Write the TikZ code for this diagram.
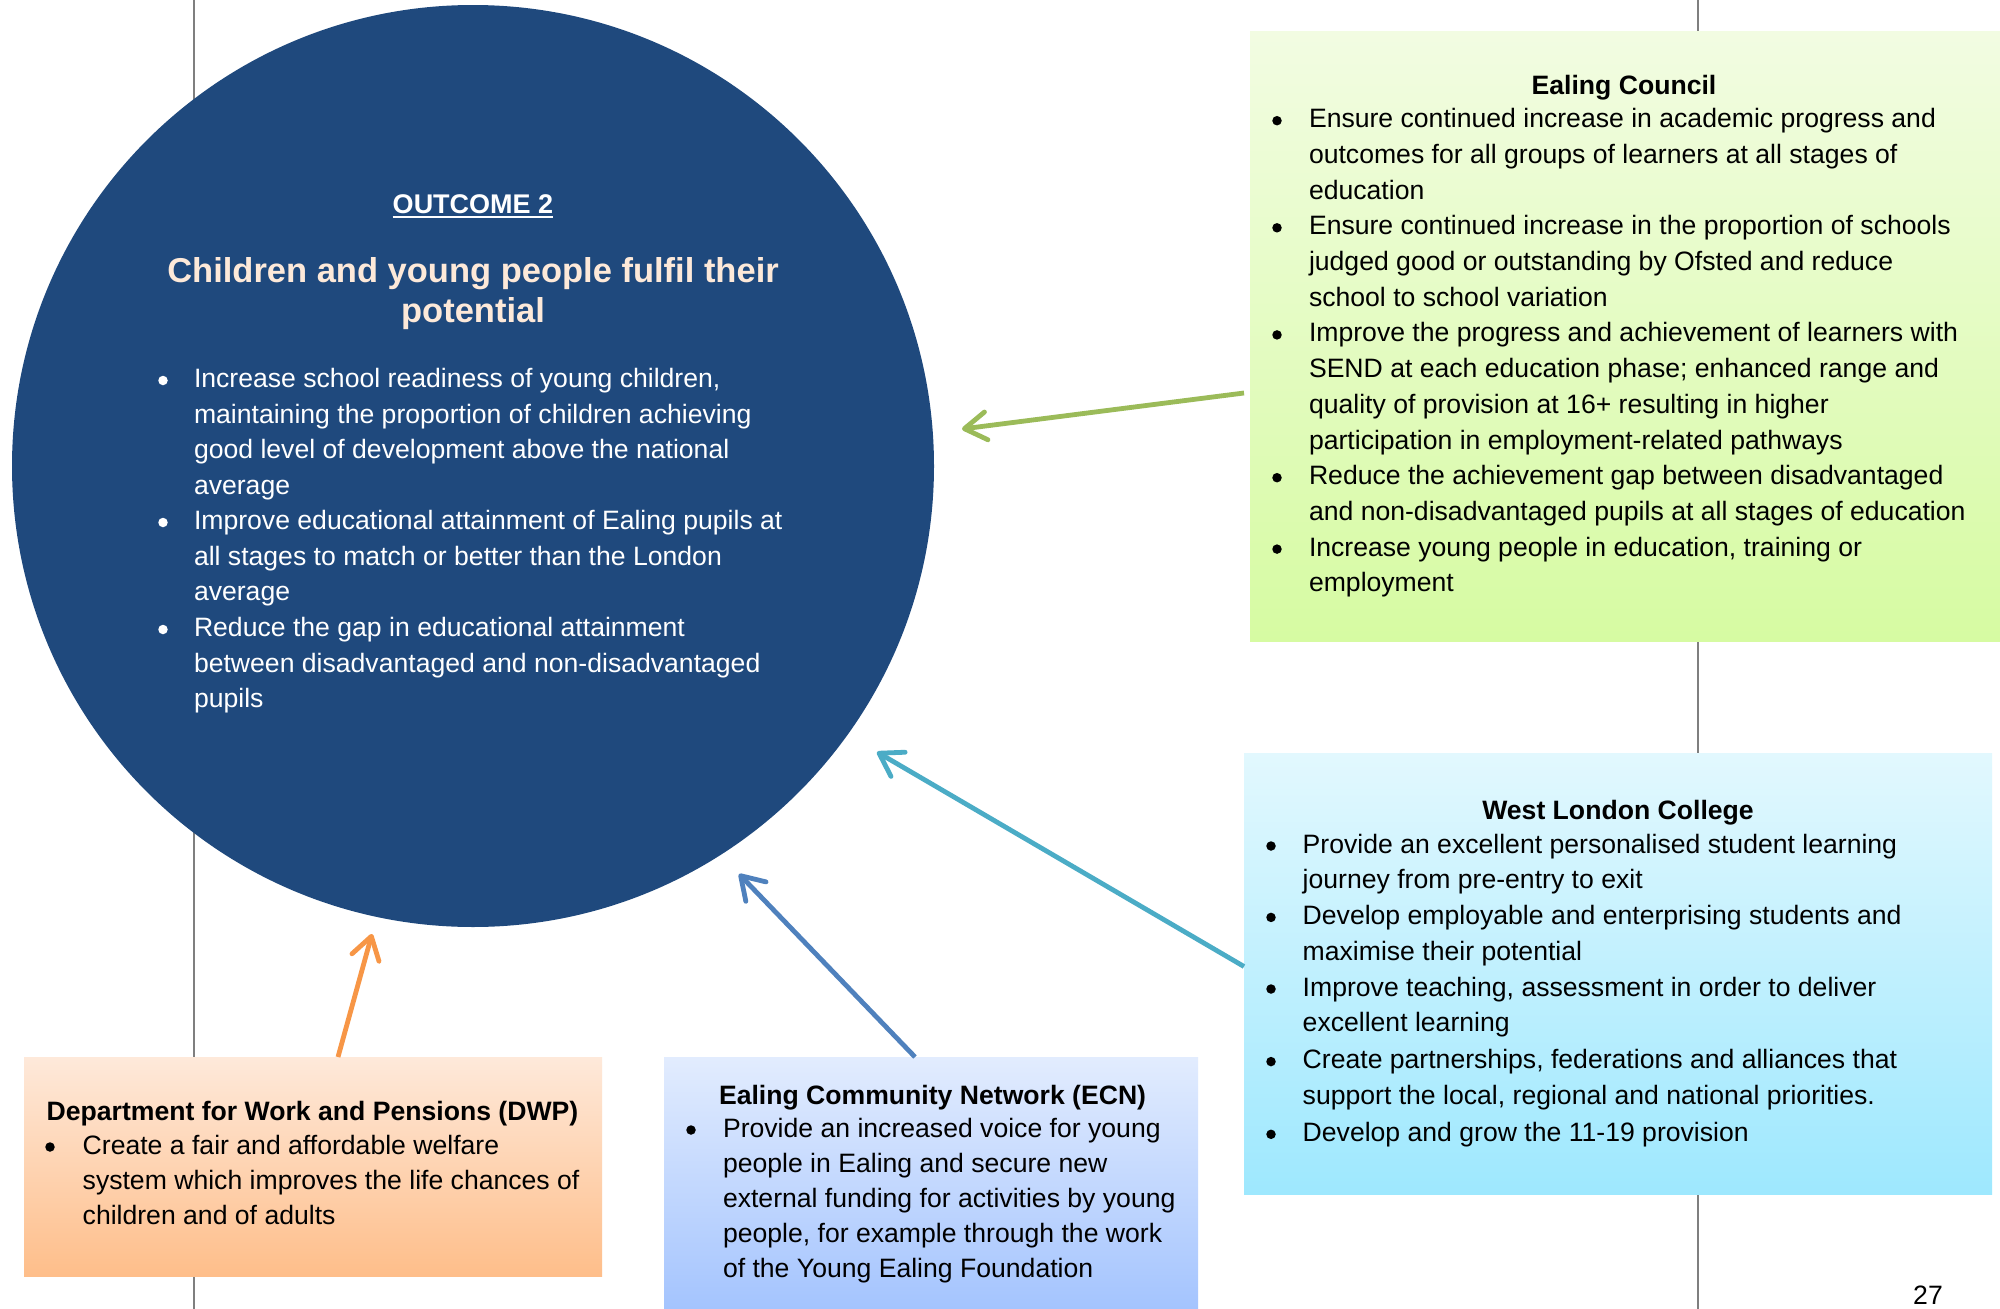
\documentclass[tikz,border=0pt]{standalone}
\usepackage{fontspec}
\setmainfont{Liberation Sans}
\usetikzlibrary{arrows.meta}
\definecolor{circblue}{HTML}{1F497D}
\definecolor{titlepeach}{HTML}{FDE9D9}
\definecolor{vgray}{HTML}{7F7F7F}
\definecolor{arrgreen}{HTML}{9BBB59}
\definecolor{arrteal}{HTML}{4BACC6}
\definecolor{arrblue}{HTML}{4F81BD}
\definecolor{arrorange}{HTML}{F79646}
\definecolor{ectop}{RGB}{242,252,226}
\definecolor{ecbot}{RGB}{214,251,162}
\definecolor{wltop}{RGB}{226,248,254}
\definecolor{wlbot}{RGB}{158,232,254}
\definecolor{dwtop}{RGB}{254,233,218}
\definecolor{dwbot}{RGB}{254,190,138}
\definecolor{ecntop}{RGB}{226,236,254}
\definecolor{ecnbot}{RGB}{164,196,254}
\newcommand\txtfont{\fontsize{26.6}{35.6}\selectfont}
\newcommand\txtfontb{\fontsize{26.6}{35.0}\selectfont}
\newcommand\txtfontc{\fontsize{26.6}{35.7}\selectfont}
\begin{document}
\begin{tikzpicture}[x=1pt,y=-1pt,
  every node/.style={inner sep=0pt, outer sep=0pt},
  box/.style={anchor=north west, rectangle, draw=none, shading=axis},
  bodytext/.style={anchor=base west},
  bulc/.style={circle, minimum size=9.5pt},
  conn/.style={line width=4.8pt, -{Straight Barb[length=22pt,width=28pt,round]}},
  vline/.style={draw=vgray, line width=2.2pt}]
\useasboundingbox[fill=white] (0,0) rectangle (2000,1309);
% vertical guide lines
\coordinate (l1t) at (194,0);
\coordinate (l1b) at (194,1309);
\coordinate (l2t) at (1698,0);
\coordinate (l2b) at (1698,1309);
\draw[vline] (l1t) -- (l1b);
\draw[vline] (l2t) -- (l2b);
% central circle
\node[circle, fill=circblue, minimum size=922pt] (circ) at (473,466) {};
% boxes
\node[box, top color=ectop, bottom color=ecbot, minimum width=750pt, minimum height=610pt] (ec) at (1250,31) {};
\node[box, top color=wltop, bottom color=wlbot, minimum width=748pt, minimum height=441pt] (wlc) at (1244,753) {};
\node[box, top color=dwtop, bottom color=dwbot, minimum width=578pt, minimum height=219pt] (dwp) at (24,1057) {};
\node[box, top color=ecntop, bottom color=ecnbot, minimum width=534pt, minimum height=252pt] (ecn) at (664,1057) {};
% arrows
\coordinate (gtip) at (962,429);
\coordinate (ttip) at (877,752);
\coordinate (btip) at (739,874);
\coordinate (otip) at (372,934);
\draw[conn, draw=arrgreen] ([shift={(-6,57)}]ec.west) -- (gtip);
\draw[conn, draw=arrteal] ([shift={(0,-7)}]wlc.west) -- (ttip);
\draw[conn, draw=arrblue] ([shift={(-16,0)}]ecn.north) -- (btip);
\draw[conn, draw=arrorange] ([shift={(25,0)}]dwp.north) -- (otip);
% circle text
\node[anchor=base, text=white, font=\fontsize{27}{32}\selectfont\bfseries] (oc) at (473,213) {OUTCOME 2};
\draw[white, line width=2pt] ([yshift=-4pt]oc.base west) -- ([yshift=-4pt]oc.base east);
\node[anchor=base, text=titlepeach, font=\fontsize{34.5}{40}\selectfont\bfseries] (ttl) at (473,282)
  {\parbox[t]{760pt}{\centering Children and young people fulfil their\\potential}};
\begin{scope}[every node/.append style={text=white, font=\txtfont}, bulc/.append style={fill=white}]
\node[bulc] (cb1) at (163,380.5) {};
\node[bodytext] (ct1) at (194,387.5) {\parbox[t]{900pt}{Increase school readiness of young children,\\maintaining the proportion of children achieving\\good level of development above the national\\average}};
\node[bulc] (cb2) at (163,522.5) {};
\node[bodytext] (ct2) at (194,529.5) {\parbox[t]{900pt}{Improve educational attainment of Ealing pupils at\\all stages to match or better than the London\\average}};
\node[bulc] (cb3) at (163,629.5) {};
\node[bodytext] (ct3) at (194,636.5) {\parbox[t]{900pt}{Reduce the gap in educational attainment\\between disadvantaged and non-disadvantaged\\pupils}};
\end{scope}
% Ealing Council
\begin{scope}[every node/.append style={text=black, font=\txtfontc}, bulc/.append style={fill=black}]
\node[anchor=base, font=\txtfontc\bfseries] (ech) at (1624,94) {Ealing Council};
\node[bulc] (eb1) at (1277,120.7) {};
\node[bodytext] (et1) at (1309,127.7) {\parbox[t]{900pt}{Ensure continued increase in academic progress and\\outcomes for all groups of learners at all stages of\\education}};
\node[bulc] (eb2) at (1277,227.8) {};
\node[bodytext] (et2) at (1309,234.8) {\parbox[t]{900pt}{Ensure continued increase in the proportion of schools\\judged good or outstanding by Ofsted and reduce\\school to school variation}};
\node[bulc] (eb3) at (1277,334.9) {};
\node[bodytext] (et3) at (1309,341.9) {\parbox[t]{900pt}{Improve the progress and achievement of learners with\\SEND at each education phase; enhanced range and\\quality of provision at 16+ resulting in higher\\participation in employment-related pathways}};
\node[bulc] (eb4) at (1277,477.7) {};
\node[bodytext] (et4) at (1309,484.7) {\parbox[t]{900pt}{Reduce the achievement gap between disadvantaged\\and non-disadvantaged pupils at all stages of education}};
\node[bulc] (eb5) at (1277,549.1) {};
\node[bodytext] (et5) at (1309,556.1) {\parbox[t]{900pt}{Increase young people in education, training or\\employment}};
% West London College
\node[anchor=base, font=\txtfontc\bfseries] (wlh) at (1618,819) {West London College};
\node[bulc] (wb1) at (1271,846) {};
\node[bodytext] (wt1) at (1302.7,853) {\parbox[t]{900pt}{Provide an excellent personalised student learning\\journey from pre-entry to exit}};
\node[bulc] (wb2) at (1271,917.4) {};
\node[bodytext] (wt2) at (1302.7,924.4) {\parbox[t]{900pt}{Develop employable and enterprising students and\\maximise their potential}};
\node[bulc] (wb3) at (1271,989) {};
\node[bodytext] (wt3) at (1302.7,996) {\parbox[t]{900pt}{Improve teaching, assessment in order to deliver\\excellent learning}};
\node[bulc] (wb4) at (1271,1061.6) {};
\node[bodytext] (wt4) at (1302.7,1068.6) {\parbox[t]{900pt}{Create partnerships, federations and alliances that\\support the local, regional and national priorities.}};
\node[bulc] (wb5) at (1271,1134.3) {};
\node[bodytext] (wt5) at (1302.7,1141.3) {\parbox[t]{900pt}{Develop and grow the 11-19 provision}};
\end{scope}
% DWP and ECN
\begin{scope}[every node/.append style={text=black, font=\txtfontb}, bulc/.append style={fill=black}]
\node[anchor=base west, font=\txtfontb\bfseries] (dwh) at (46.7,1120.7) {Department for Work and Pensions (DWP)};
\node[bulc] (db1) at (50,1147) {};
\node[bodytext] (dt1) at (82.7,1154) {\parbox[t]{900pt}{Create a fair and affordable welfare\\system which improves the life chances of\\children and of adults}};
\node[anchor=base west, font=\txtfontb\bfseries] (ecnh) at (719,1104) {Ealing Community Network (ECN)};
\node[bulc] (nb1) at (691,1130) {};
\node[bodytext] (nt1) at (723,1137) {\parbox[t]{900pt}{Provide an increased voice for young\\people in Ealing and secure new\\external funding for activities by young\\people, for example through the work\\of the Young Ealing Foundation}};
\node[anchor=base] (pg) at (1928,1304) {27};
\end{scope}
\end{tikzpicture}
\end{document}
